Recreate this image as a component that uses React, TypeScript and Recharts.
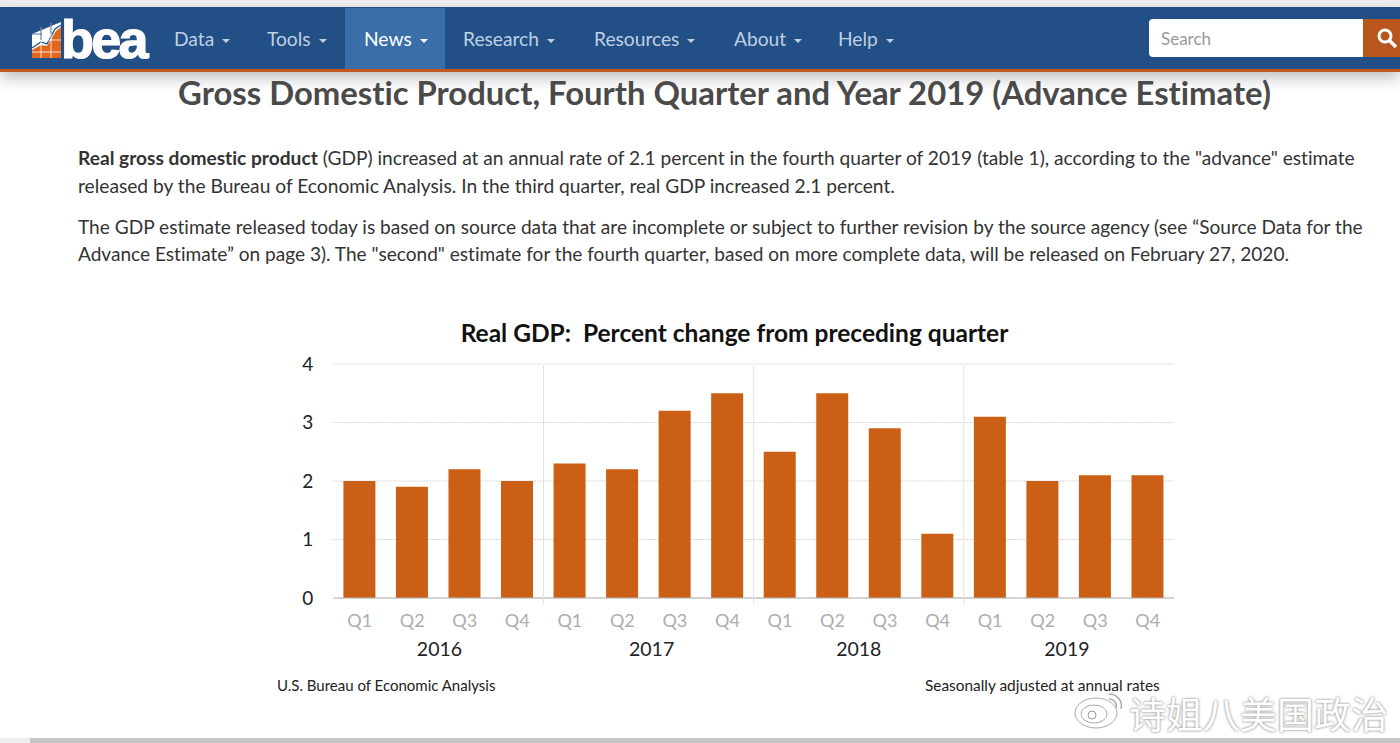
import React from "react";
import { BarChart, Bar, XAxis, YAxis, CartesianGrid } from "recharts";

const quarters = ["Q1","Q2","Q3","Q4","Q1","Q2","Q3","Q4","Q1","Q2","Q3","Q4","Q1","Q2","Q3","Q4"];
const values = [2.0,1.9,2.2,2.0,2.3,2.2,3.2,3.5,2.5,3.5,2.9,1.1,3.1,2.0,2.1,2.1];
const years = ["2016","2017","2018","2019"];
const yTicks = [0,1,2,3,4];
const navItems = ["Data","Tools","News","Research","Resources","About","Help"];
const navLefts = [174,267,364,463,594,734,838];

const rows = quarters.map((q, i) => ({ id: i, q, value: values[i] }));
const PAGE = "Lato, 'Open Sans', sans-serif";
const ORANGE = "#cb5f15";

const abs = (left: number, top: number, extra: React.CSSProperties = {}): React.CSSProperties => ({
  position: "absolute", left, top, whiteSpace: "nowrap", fontVariantLigatures: "none", ...extra,
});

function QuarterTick(props: any) {
  const { x, y, payload, index } = props;
  const q = quarters[payload.value] ?? "";
  const band = 52.56;
  const yearIdx = Math.floor(index / 4);
  return (
    <g>
      <text x={x} y={y + 21} textAnchor="middle" fontSize={18} fontFamily={PAGE} fill="#adadad">{q}</text>
      {index % 4 === 1 && (
        <text x={x + band / 2 + [1, 3, 0, -2][yearIdx]} y={y + 50} textAnchor="middle" fontSize={19.5} fontFamily={PAGE} fill="#222">{years[yearIdx]}</text>
      )}
      {index % 4 === 0 && index > 0 && (
        <line x1={x - band / 2} x2={x - band / 2} y1={y - 2} y2={y - 240} stroke="#e2e2e2" strokeWidth={1} />
      )}
    </g>
  );
}

function Logo() {
  return (
    <div style={abs(31, 14, { width: 122, height: 46 })}>
      <svg width={31} height={38} viewBox="0 0 31 38" style={{ position: "absolute", left: 1, top: 8 }}>
        <polygon points="0,12 29,0 29,36 0,36" fill="#ffffff" />
        <polygon points="0,36 0,28 9,23 15,24 24,9 29,5 29,36" fill="#e2661d" />
        <path d="M0 26 L9 20 L15 22 L23 7 L29 3" stroke="#224f85" strokeWidth={1.3} fill="none" />
        <path d="M9 5V36M19 1V36M0 18H29M0 30H29" stroke="#fff" strokeWidth={0.8} fill="none" />
        <path d="M9 4V18M19 1V12M0 12H10" stroke="#224f85" strokeWidth={0.8} fill="none" />
      </svg>
      <div style={abs(30, -6, { fontFamily: "'Liberation Sans', sans-serif", fontWeight: 700, fontSize: 54, color: "#fff", letterSpacing: -2.8, WebkitTextStroke: "1.2px #fff" })}>bea</div>
    </div>
  );
}

export default function App() {
  return (
    <div style={{ position: "fixed", left: 0, top: 0, width: 1400, height: 743, background: "#fff", overflow: "hidden", fontFamily: PAGE }}>
      <div style={{ position: "absolute", left: 0, top: 0, width: 1400, height: 7, background: "#f0eeef" }} />
      <div style={{ position: "absolute", left: 0, top: 7, width: 1400, height: 62, background: "#224f85", borderBottom: "3px solid #c2561c", boxShadow: "0 6px 14px rgba(0,0,0,0.25)" }} />
      <div style={{ position: "absolute", left: 345, top: 8, width: 100, height: 61, background: "#3a6ea8" }} />
      <Logo />
      {navItems.map((n, i) => (
        <div key={n} style={abs(navLefts[i], 27, { fontSize: 19.2, color: n === "News" ? "#fff" : "#bfd0e4" })}>
          {n}
          <span style={{ display: "inline-block", marginLeft: 8, verticalAlign: 3, borderTop: "4px solid", borderLeft: "4px solid transparent", borderRight: "4px solid transparent" }} />
        </div>
      ))}
      <div style={{ position: "absolute", left: 1149, top: 19, width: 214, height: 38, background: "#fff", borderRadius: "4px 0 0 4px" }} />
      <div style={abs(1161, 28, { fontSize: 17, color: "#999" })}>Search</div>
      <div style={{ position: "absolute", left: 1363, top: 19, width: 37, height: 38, background: "#b9561d" }} />
      <svg width={24} height={24} style={{ position: "absolute", left: 1376, top: 27 }}>
        <circle cx={9} cy={9} r={6} stroke="#fff" strokeWidth={3} fill="none" />
        <line x1={13.5} y1={13.5} x2={20} y2={20} stroke="#fff" strokeWidth={3.5} />
      </svg>

      <div style={{ position: "absolute", left: 0, width: 1449, top: 73, textAlign: "center", fontSize: 32.85, fontWeight: 700, color: "#4a4a4a", whiteSpace: "nowrap", fontVariantLigatures: "none" }}>
        Gross Domestic Product, Fourth Quarter and Year 2019 (Advance Estimate)
      </div>
      <div style={abs(78, 146, { fontSize: 19.17, color: "#333" })}><b>Real gross domestic product</b> (GDP) increased at an annual rate of 2.1 percent in the fourth quarter of 2019 (table 1), according to the "advance" estimate</div>
      <div style={abs(78, 174, { fontSize: 19.19, color: "#333" })}>released by the Bureau of Economic Analysis. In the third quarter, real GDP increased 2.1 percent.</div>
      <div style={abs(78, 215, { fontSize: 19.11, color: "#333" })}>The GDP estimate released today is based on source data that are incomplete or subject to further revision by the source agency (see “Source Data for the</div>
      <div style={abs(78, 242, { fontSize: 19.07, color: "#333" })}>Advance Estimate” on page 3). The "second" estimate for the fourth quarter, based on more complete data, will be released on February 27, 2020.</div>

      <div style={{ position: "absolute", left: 0, top: 0 }}>
        <BarChart width={1400} height={743} data={rows} margin={{ left: 293.4, right: 226, top: 364, bottom: 115 }} barSize={32}>
          <CartesianGrid horizontal vertical={false} stroke="#d6d6d6" strokeDasharray="2 1" />
          <XAxis dataKey="id" type="category" height={30} interval={0} tick={<QuarterTick />} tickLine={false} axisLine={{ stroke: "#b5b5b5" }} />
          <YAxis domain={[0, 4]} ticks={yTicks} width={40} tickLine={false} axisLine={false} tickMargin={14} tick={{ fontSize: 19, fill: "#222", fontFamily: PAGE }} />
          <Bar dataKey="value" fill={ORANGE} isAnimationActive={false} />
        </BarChart>
      </div>

      <div style={{ position: "absolute", left: 0, width: 1469, top: 318, textAlign: "center", fontSize: 24.5, fontWeight: 700, color: "#111", whiteSpace: "pre", fontVariantLigatures: "none" }}>Real GDP:  Percent change from preceding quarter</div>
      <div style={abs(277, 676, { fontSize: 15, color: "#222" })}>U.S. Bureau of Economic Analysis</div>
      <div style={abs(925, 676, { fontSize: 15.4, color: "#222" })}>Seasonally adjusted at annual rates</div>

      <svg width={56} height={42} style={{ position: "absolute", left: 1072, top: 688 }}>
        <ellipse cx={24} cy={25} rx={21} ry={15} fill="#fff" stroke="#aaa" strokeWidth={1} />
        <ellipse cx={22} cy={26} rx={13} ry={9} fill="#fff" stroke="#aaa" strokeWidth={1} />
        <circle cx={20} cy={27} r={4} fill="#fff" stroke="#999" />
        <path d="M37 6 A12 12 0 0 1 49 21 M37 11 A7 7 0 0 1 44 20" stroke="#aaa" strokeWidth={1.5} fill="none" />
      </svg>
      <div style={abs(1129, 686, { fontFamily: "'Noto Sans CJK SC', sans-serif", fontSize: 37, color: "#fff", textShadow: "0 0 3px #999, 0 0 2px #aaa" })}>诗姐八美国政治</div>
      <div style={{ position: "absolute", left: 0, top: 738, width: 1400, height: 5, background: "#c6c6c6" }} />
      <div style={{ position: "absolute", left: 0, top: 738, width: 30, height: 5, background: "#efefef" }} />
    </div>
  );
}
